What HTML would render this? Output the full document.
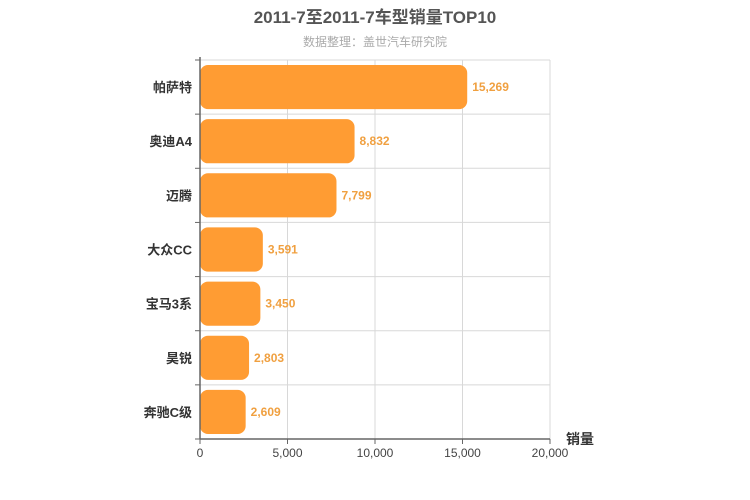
<!DOCTYPE html>
<html><head><meta charset="utf-8"><style>
body{margin:0;background:#fff;}
svg{display:block;font-family:"Liberation Sans","Noto Sans CJK SC",sans-serif;}
</style></head><body>
<svg id="c" width="750" height="500">
<text x="375" y="23" text-anchor="middle" font-size="17" font-weight="bold" fill="#555">2011-7至2011-7车型销量TOP10</text>
<text x="375" y="46" text-anchor="middle" font-size="12" fill="#aaa">数据整理：盖世汽车研究院</text>
<g id="grid"></g><g id="bars"></g><g id="axes"></g>
<text x="580" y="444" text-anchor="middle" font-size="14" font-weight="bold" fill="#333">销量</text>
</svg>
<script>
const categories=["帕萨特","奥迪A4","迈腾","大众CC","宝马3系","昊锐","奔驰C级"];
const values=[15269,8832,7799,3591,3450,2803,2609];
const xTicks=[0,5000,10000,15000,20000];
const X0=200,X1=550,Y0=60,Y1=439,XMAX=20000;
const NS="http://www.w3.org/2000/svg";
const x=v=>X0+(v/XMAX)*(X1-X0);
const bandH=(Y1-Y0)/categories.length;
const y=i=>Y0+i*bandH;
function mk(tag,attrs,parent,txt){const e=document.createElementNS(NS,tag);for(const k in attrs)e.setAttribute(k,attrs[k]);if(txt!=null)e.textContent=txt;document.getElementById(parent).appendChild(e);return e;}
xTicks.forEach((t,i)=>{
 if(i>0){const g=mk('line',{x1:x(t),x2:x(t),y1:Y0,y2:Y1,stroke:'#d8d8d8'},'grid');
 
 }
 const tk=mk('line',{x1:x(t),x2:x(t),y1:Y1,y2:Y1+5,stroke:'#666'},'axes');
 
 
 const l=mk('text',{x:x(t),y:Y1+18,'text-anchor':'middle','font-size':12,fill:'#444'},'axes',t.toLocaleString('en-US'));
 
 
});
for(let i=0;i<=categories.length;i++){
 const g=mk('line',{x1:X0,x2:X1,y1:y(i),y2:y(i),stroke:'#d8d8d8'},'grid');
 
 
 const tk=mk('line',{x1:X0-5,x2:X0,y1:y(i),y2:y(i),stroke:'#666'},'axes');
 
 
}
categories.forEach((c,i)=>{
 const b=mk('rect',{x:X0,y:y(i)+5,width:x(values[i])-X0,height:bandH-10,rx:8,ry:8,fill:'#ff9c33'},'bars');
 
 
 const v=mk('text',{x:x(values[i])+5,y:y(i)+bandH/2+4,'font-size':12,'font-weight':'bold',fill:'#f0a040'},'bars',values[i].toLocaleString('en-US'));
 
 
 const l=mk('text',{x:X0-8,y:y(i)+bandH/2+5,'text-anchor':'end','font-size':13,'font-weight':'bold',fill:'#333'},'axes',c);
 
 
});
const ax=mk('line',{x1:X0,x2:X0,y1:Y0-3,y2:Y1,stroke:'#666','stroke-width':1.5},'axes');


const bx=mk('line',{x1:X0,x2:X1,y1:Y1,y2:Y1,stroke:'#666','stroke-width':1.5},'axes');


</script>
</body></html>
